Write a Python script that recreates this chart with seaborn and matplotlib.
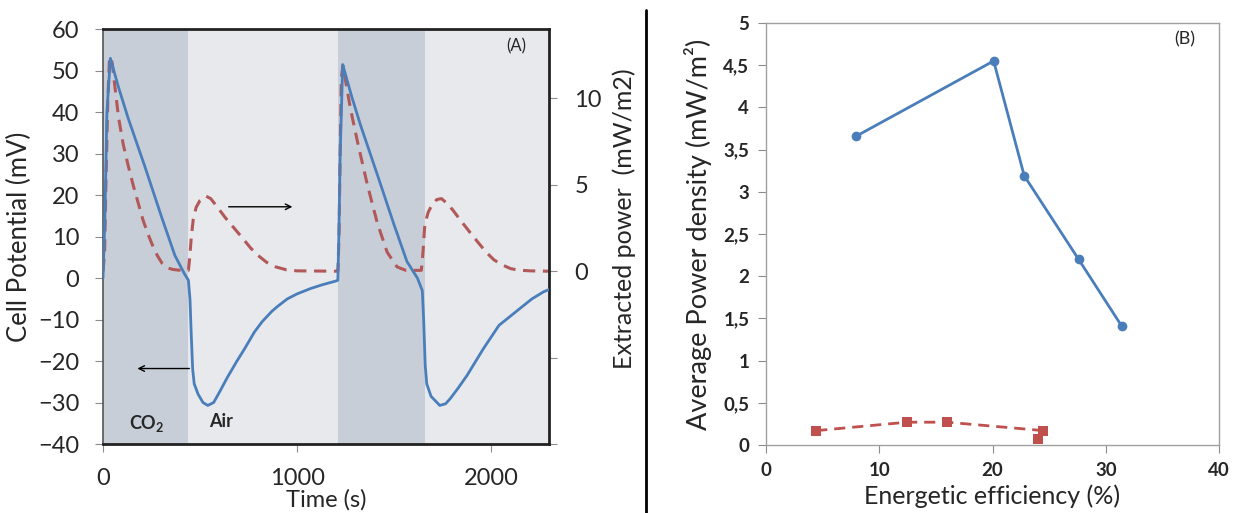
import numpy as np
import pandas as pd
import seaborn as sns
import matplotlib.pyplot as plt

# (A) cell potential and extracted power vs time
time_v = [0, 10, 20, 38, 80, 130, 215, 300, 370, 420, 440, 448, 455, 462, 470, 490, 515, 540,
          570, 600, 640, 690, 730, 780, 820, 870, 900, 950, 1000, 1070, 1130, 1200, 1210,
          1215, 1222, 1235, 1280, 1326, 1413, 1500, 1566, 1620, 1645, 1652, 1660, 1668, 1690,
          1735, 1765, 1790, 1830, 1875, 1960, 2040, 2130, 2210, 2270, 2300]
potential = [0, 15, 40, 53, 46, 38.5, 27, 15, 5.5, 1, -0.5, -5, -14, -22, -25.5, -28, -30, -30.7,
             -30, -27.5, -24, -20, -17, -13, -10.5, -8, -6.8, -5, -3.8, -2.5, -1.6, -0.7, -0.5,
             10, 30, 51.5, 44, 37, 25, 12.8, 4, 0, -3, -10, -21, -25.5, -28.5,
             -30.7, -30.3, -29, -26.5, -23.5, -17, -11.4, -8, -5, -3.3, -2.7]

time_p = [0, 8, 15, 25, 33, 40, 48, 60, 80, 105, 130, 155, 180, 205, 230, 255, 280, 305, 330,
          360, 400, 440, 447, 455, 465, 480, 500, 530, 555, 590, 630, 675, 720, 760, 800, 845,
          890, 945, 1000, 1205, 1210, 1216, 1222, 1228, 1236, 1250, 1275, 1311, 1362, 1413,
          1464, 1515, 1560, 1640, 1648, 1658, 1675, 1693, 1720, 1744, 1775, 1805, 1845, 1887,
          1930, 1974, 2015, 2060, 2100, 2142, 2200, 2300]
power = [0, 1, 5, 10, 12.2, 12.4, 12.0, 10.8, 8.9, 7.3, 6.1, 5.0, 4.0, 3.0, 2.2, 1.5, 0.9, 0.45,
         0.2, 0.1, 0.05, 0.05, 0.8, 2.0, 3.0, 3.7, 4.1, 4.35, 4.2, 3.7, 3.1, 2.5, 1.9, 1.35, 0.9,
         0.5, 0.25, 0.08, 0.02, 0.0, 0.0, 2, 7, 11.2, 11.9, 11, 9.4, 7.5, 5.0, 2.8,
         1.1, 0.25, 0.05, 0.05, 1.0, 2.7, 3.4, 3.8, 4.15, 4.2, 3.9, 3.5, 2.9, 2.3,
         1.7, 1.1, 0.65, 0.35, 0.15, 0.06, 0.02, 0.0]

co2_periods = [(0, 440), (1210, 1660)]
air_periods = [(440, 1210), (1660, 2300)]

# (B) average power density vs energetic efficiency
eff_blue = [7.98, 20.1, 22.8, 27.6, 31.4]
dens_blue = [3.66, 4.55, 3.19, 2.20, 1.41]
eff_red = [4.44, 12.46, 16.0, 24.5, 24.0]
dens_red = [0.17, 0.27, 0.27, 0.17, 0.07]

sns.set_style("ticks")
plt.rcParams['font.family'] = ['Lato', 'DejaVu Sans']
plt.rcParams['mathtext.fontset'] = 'custom'
plt.rcParams['mathtext.rm'] = 'Lato'
plt.rcParams['mathtext.bf'] = 'Lato:bold'

blue = '#4a7ebb'
red_dash = '#b35858'
red = '#c0504d'
grey = '#8c8c8c'

fig = plt.figure(figsize=(12.38, 5.13), dpi=100)
ax = fig.add_axes([0.0832, 0.1345, 0.3606, 0.8084])
ax2 = ax.twinx()
axb = fig.add_axes([0.6187, 0.1326, 0.366, 0.8226])

# ---- panel A ----
# ax (blue) sits above ax2, so the shading goes on ax2 with the red curve
ax.set_zorder(ax2.get_zorder() + 1)
ax.patch.set_visible(False)
for a, b in co2_periods:
    ax2.axvspan(a, b, color='#c8ced8', lw=0, zorder=0)
for a, b in air_periods:
    ax2.axvspan(a, b, color='#e7e9ec', lw=0, zorder=0)

df_v = pd.DataFrame({'t': time_v, 'v': potential})
df_p = pd.DataFrame({'t': time_p, 'p': power})
sns.lineplot(data=df_v, x='t', y='v', ax=ax, color=blue, lw=2, sort=False, zorder=3)
sns.lineplot(data=df_p, x='t', y='p', ax=ax2, color=red_dash, lw=2.2, sort=False,
             zorder=3).lines[-1].set_dashes([4, 2.5])

ax.set_xlim(0, 2300)
ax.set_ylim(-40, 60)
ax.set_yticks(range(-40, 61, 10))
ax.set_xticks([0, 1000, 2000])
ax2.set_ylim(-10, 14)
ax2.set_yticks([-10, -5, 0, 5, 10])
ax2.set_yticklabels(['', '', '0', '5', '10'])

ax.tick_params(axis='both', labelsize=17, color=grey, length=6)
ax.tick_params(axis='y', pad=11)
ax.tick_params(axis='x', pad=11)
ax2.tick_params(axis='y', labelsize=17, color=grey, length=6, pad=12)

for s in ['top', 'right', 'bottom']:
    ax.spines[s].set_color('#222222')
    ax.spines[s].set_linewidth(2)
ax.spines['left'].set_color('#555555')
ax.spines['left'].set_linewidth(1.2)
for s in ax2.spines.values():
    s.set_visible(False)

ax.set_xlabel('Time (s)', fontsize=17)
ax.xaxis.set_label_coords(0.5, -0.108)
ax.set_ylabel('Cell Potential (mV)', fontsize=18.5)
ax.yaxis.set_label_coords(-0.16, 0.5)
ax2.set_ylabel('Extracted power  (mW/m2)', fontsize=18)
ax2.yaxis.set_label_coords(1.14, 0.544)

ax.annotate('', xy=(163, -21.8), xytext=(459, -21.8),
            arrowprops=dict(arrowstyle='->', color='black', lw=1), zorder=5)
ax.annotate('', xy=(990, 17.2), xytext=(633, 17.2),
            arrowprops=dict(arrowstyle='->', color='black', lw=1), zorder=5)
ax.text(224, -35, r'$\mathbf{CO_2}$', fontsize=13, ha='center', va='center')
ax.text(607, -34.6, 'Air', fontsize=13, fontweight='bold', ha='center', va='center')
ax.text(2127, 56, '(A)', fontsize=12, ha='center', va='center')

# ---- panel B ----
df_b = pd.DataFrame({'x': eff_blue, 'y': dens_blue})
df_r = pd.DataFrame({'x': eff_red, 'y': dens_red})
sns.lineplot(data=df_b, x='x', y='y', ax=axb, color=blue, lw=2, sort=False,
             marker='o', markersize=7, markeredgewidth=0)
sns.lineplot(data=df_r, x='x', y='y', ax=axb, color=red, lw=2, sort=False,
             marker='s', markersize=7, markeredgewidth=0).lines[-1].set_dashes([4, 2.5])

axb.set_xlim(0, 40)
axb.set_ylim(0, 5)
axb.set_xticks(range(0, 41, 10))
yt = np.arange(0, 5.01, 0.5)
axb.set_yticks(yt)
axb.set_yticklabels([('%g' % v).replace('.', ',') for v in yt])
axb.tick_params(axis='both', labelsize=13.5, color=grey, length=6)
axb.tick_params(axis='y', pad=6)
axb.tick_params(axis='x', pad=6)
for lab in axb.get_xticklabels() + axb.get_yticklabels():
    lab.set_fontweight('bold')
for s in axb.spines.values():
    s.set_color('#a0a0a0')
    s.set_linewidth(1)

axb.set_xlabel('Energetic efficiency (%)', fontsize=18)
axb.xaxis.set_label_coords(0.5, -0.093)
axb.set_ylabel('Average Power density (mW/m²)', fontsize=19.5)
axb.yaxis.set_label_coords(-0.12, 0.5)
axb.text(37, 4.8, '(B)', fontsize=13, ha='center', va='center')

fig.add_artist(plt.Line2D([0.5218, 0.5218], [0, 0.98], color='black', lw=2))

fig.savefig('out.png', dpi=100)
